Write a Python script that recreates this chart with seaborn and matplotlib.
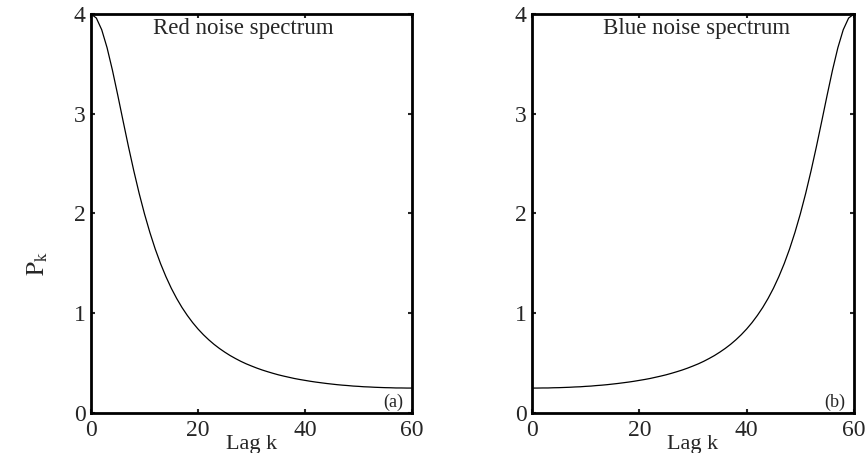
import numpy as np
import pandas as pd
import matplotlib
matplotlib.use("Agg")
import matplotlib.pyplot as plt
import seaborn as sns

# Lag index and spectral power for the two noise types
lags = list(range(0, 61))
red_power = [4.000, 3.959, 3.842, 3.662, 3.437, 3.186, 2.926, 2.670, 2.427, 2.201,
             1.995, 1.810, 1.644, 1.497, 1.367, 1.251, 1.149, 1.058, 0.978, 0.906,
             0.842, 0.785, 0.734, 0.688, 0.647, 0.610, 0.576, 0.546, 0.518, 0.493,
             0.471, 0.450, 0.431, 0.414, 0.398, 0.383, 0.370, 0.358, 0.346, 0.336,
             0.327, 0.318, 0.310, 0.303, 0.296, 0.290, 0.284, 0.279, 0.275, 0.270,
             0.267, 0.263, 0.261, 0.258, 0.256, 0.254, 0.253, 0.251, 0.251, 0.250,
             0.250]
blue_power = [0.250, 0.250, 0.251, 0.251, 0.253, 0.254, 0.256, 0.258, 0.261, 0.263,
              0.267, 0.270, 0.275, 0.279, 0.284, 0.290, 0.296, 0.303, 0.310, 0.318,
              0.327, 0.336, 0.346, 0.358, 0.370, 0.383, 0.398, 0.414, 0.431, 0.450,
              0.471, 0.493, 0.518, 0.546, 0.576, 0.610, 0.647, 0.688, 0.734, 0.785,
              0.842, 0.906, 0.978, 1.058, 1.149, 1.251, 1.367, 1.497, 1.644, 1.810,
              1.995, 2.201, 2.427, 2.670, 2.926, 3.186, 3.437, 3.662, 3.842, 3.959,
              4.000]

x_ticks = [0, 20, 40, 60]
y_ticks = [0, 1, 2, 3, 4]
panel_titles = ["Red noise spectrum", "Blue noise spectrum"]
panel_tags = ["(a)", "(b)"]

sns.set_style("white")
plt.rcParams["font.family"] = ["Liberation Serif", "DejaVu Serif"]
plt.rcParams["mathtext.fontset"] = "stix"

fig = plt.figure(figsize=(8.66, 4.53), dpi=100)
ax_a = fig.add_axes([0.1051, 0.0883, 0.3707, 0.8808])
ax_b = fig.add_axes([0.6143, 0.0883, 0.3718, 0.8808])

df = pd.DataFrame({"lag": lags, "red": red_power, "blue": blue_power})

for ax, col, title, tag, tx in [
    (ax_a, "red", panel_titles[0], panel_tags[0], 28.4),
    (ax_b, "blue", panel_titles[1], panel_tags[1], 30.6),
]:
    sns.lineplot(data=df, x="lag", y=col, ax=ax, color="black", linewidth=0.9)
    ax.set_xlim(0, 60)
    ax.set_ylim(0, 4)
    ax.set_xticks(x_ticks)
    ax.set_yticks(y_ticks)
    ax.set_xticklabels([str(v) for v in x_ticks], fontsize=17)
    ax.set_yticklabels([str(v) for v in y_ticks], fontsize=17)
    ax.tick_params(direction="in", length=3, width=1.5, top=True, right=True,
                   bottom=True, left=True, pad=4)
    ax.tick_params(axis="x", pad=5)
    for s in ax.spines.values():
        s.set_visible(True)
        s.set_linewidth(2.0)
        s.set_color("black")
    ax.set_ylabel("")
    ax.set_xlabel("Lag k", fontsize=16, labelpad=-4)
    ax.text(tx, 3.85, title, ha="center", va="center", fontsize=16.5)
    ax.text(58.3, 0.11, tag, ha="right", va="center", fontsize=13)

fig.text(38 / 866, 1 - 263 / 453, r"$\mathrm{P_k}$", rotation=90,
         ha="center", va="center", fontsize=18)

fig.savefig("out.png", dpi=100)
